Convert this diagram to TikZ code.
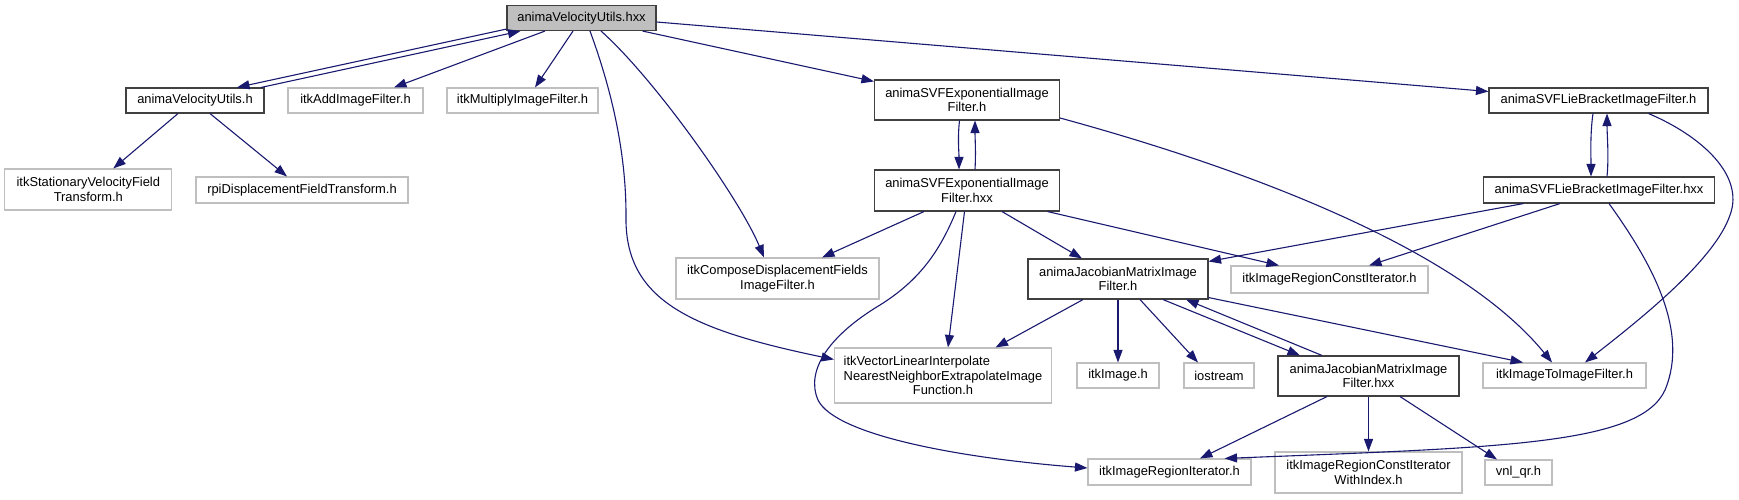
\documentclass[tikz,border=0pt]{standalone}
\usepackage{fontspec}
\setmainfont{Liberation Sans}
\usetikzlibrary{arrows.meta,calc}
\definecolor{edgeblue}{HTML}{191970}
\definecolor{extgray}{HTML}{BFBFBF}
\definecolor{projgray}{HTML}{404040}
\definecolor{rootfill}{HTML}{BFBFBF}
\begin{document}
\begin{tikzpicture}[x=1pt,y=-1pt,
  box/.style={rectangle, inner sep=0pt, align=center, font=\fontsize{12.9}{14.5}\selectfont, line width=1.1pt},
  ext/.style={box, draw=extgray},
  proj/.style={box, draw=projgray, fill=white},
  rootbox/.style={box, draw=projgray, fill=rootfill},
  dep/.style={draw=edgeblue, line width=1.1pt, -{Triangle[length=12.5pt,width=9pt]}}]
\useasboundingbox (0,0) rectangle (1739,499);

% nodes
\node[rootbox, minimum width=149pt, minimum height=25pt] (root) at (581.5,18) {animaVelocityUtils.hxx};
\node[proj, minimum width=138pt, minimum height=25pt] (vuh) at (195,100.5) {animaVelocityUtils.h};
\node[ext, minimum width=135pt, minimum height=25pt] (add) at (355.5,100.5) {itkAddImageFilter.h};
\node[ext, minimum width=151pt, minimum height=25pt] (mult) at (522.5,100.5) {itkMultiplyImageFilter.h};
\node[ext, minimum width=167pt, minimum height=41pt] (stat) at (88.3,189.5) {itkStationaryVelocityField\\Transform.h};
\node[ext, minimum width=212pt, minimum height=26pt] (rpi) at (302,190) {rpiDisplacementFieldTransform.h};
\node[proj, minimum width=185pt, minimum height=40pt] (sexph) at (967,100) {animaSVFExponentialImage\\Filter.h};
\node[proj, minimum width=185pt, minimum height=41pt] (sexphxx) at (967,190.5) {animaSVFExponentialImage\\Filter.hxx};
\node[proj, minimum width=219pt, minimum height=25pt] (slieh) at (1598.5,100.5) {animaSVFLieBracketImageFilter.h};
\node[proj, minimum width=231pt, minimum height=26pt] (sliehxx) at (1599,190) {animaSVFLieBracketImageFilter.hxx};
\node[ext, minimum width=203pt, minimum height=41pt] (compose) at (777.5,278.5) {itkComposeDisplacementFields\\ImageFilter.h};
\node[proj, minimum width=180pt, minimum height=40pt] (jach) at (1118,279) {animaJacobianMatrixImage\\Filter.h};
\node[ext, minimum width=197pt, minimum height=27pt] (ircit) at (1329.5,279.5) {itkImageRegionConstIterator.h};
\node[ext, minimum width=217pt, minimum height=55pt] (vecl) at (943,375.5) {\makebox[0pt][l]{itkVectorLinearInterpolate}\phantom{NearestNeighborExtrapolateImage}\\NearestNeighborExtrapolateImage\\Function.h};
\node[ext, minimum width=82pt, minimum height=25pt] (itkimage) at (1118,375.5) {itkImage.h};
\node[ext, minimum width=70pt, minimum height=25pt] (iostream) at (1219,375.5) {iostream};
\node[proj, minimum width=181pt, minimum height=40pt] (jachxx) at (1368.5,376) {animaJacobianMatrixImage\\Filter.hxx};
\node[ext, minimum width=163pt, minimum height=25pt] (itoi) at (1564.5,375.5) {itkImageToImageFilter.h};
\node[ext, minimum width=163pt, minimum height=26pt] (irit) at (1169.5,472) {itkImageRegionIterator.h};
\node[ext, minimum width=187pt, minimum height=41pt] (ircitwi) at (1368.5,472.5) {itkImageRegionConstIterator\\WithIndex.h};
\node[ext, minimum width=67pt, minimum height=25pt] (vnl) at (1518.5,472.5) {vnl\_qr.h};

% edges
\draw[dep] ($(root.south west)+(0,-2)$) -- ($(vuh.north)+(42,0)$);
\draw[dep] ($(vuh.north)+(66,0)$) -- ($(root.south west)+(14,0)$);
\draw[dep] ($(root.south)+(-36.5,0)$) -- ($(add.north)+(38.5,0)$);
\draw[dep] ($(root.south)+(-8.5,0)$) -- ($(mult.north)+(12.5,0)$);
\draw[dep] ($(root.south)+(19.5,0)$) .. controls +(54,48) and +(-24,-58) .. ($(compose.north)+(-13.5,0)$);
\draw[dep] ($(root.south)+(8.5,0)$) .. controls +(25,68) and +(0,-55) .. (626,215) .. controls +(-2,85) and +(-144.5,-30) .. ($(vecl.north west)+(0,12)$);
\draw[dep] ($(root.south east)+(-14,0)$) -- ($(sexph.north west)+(0,2)$);
\draw[dep] ($(root.east)+(0,4)$) -- ($(slieh.west)+(0,-9)$);
\draw[dep] ($(vuh.south)+(-17,0)$) -- ($(stat.north)+(25,0)$);
\draw[dep] ($(vuh.south)+(15,0)$) -- ($(rpi.north)+(-15,0)$);

\draw[dep] ($(sexph.south)+(-7.5,0)$) .. controls +(-2,18) and +(0,-18) .. ($(sexphxx.north)+(-8,0)$);
\draw[dep] ($(sexphxx.north)+(8,0)$) .. controls +(1,-18) and +(0,18) .. ($(sexph.south)+(8,0)$);
\draw[dep] ($(sexph.east)+(0,18)$) .. controls +(190.5,52) and +(-92,-113) .. ($(itoi.north)+(-12.5,0)$);
\draw[dep] ($(sexphxx.south)+(-43,0)$) -- ($(compose.north)+(44.5,0)$);
\draw[dep] ($(sexphxx.south)+(-2.5,0)$) -- ($(vecl.north)+(5,0)$);
\draw[dep] ($(sexphxx.south)+(-11,0)$) .. controls +(-16,39) and +(40,-25) .. (880,305) .. controls +(-50,30) and +(-13,-30) .. (818,400) .. controls +(17,35) and +(-128,-10) .. ($(irit.west)+(0,-4)$);
\draw[dep] ($(sexphxx.south)+(35,0)$) -- ($(jach.north)+(-36,0)$);
\draw[dep] ($(sexphxx.south east)+(-12.5,0)$) -- ($(ircit.north)+(-50.5,0)$);

\draw[dep] ($(slieh.south)+(-5.5,0)$) .. controls +(-3,20) and +(0,-20) .. ($(sliehxx.north)+(-8,0)$);
\draw[dep] ($(sliehxx.north)+(8,0)$) .. controls +(2,-20) and +(0,20) .. ($(slieh.south)+(8.5,0)$);
\draw[dep] ($(slieh.south east)+(-60,0)$) .. controls +(52,22) and +(15,-40) .. (1730,215) .. controls +(-15,45) and +(55,-43) .. ($(itoi.north)+(20.5,0)$);
\draw[dep] ($(sliehxx.south west)+(40.5,0)$) -- ($(jach.north east)+(0,3)$);
\draw[dep] ($(sliehxx.south)+(-39,0)$) -- ($(ircit.north)+(39.5,0)$);
\draw[dep] ($(sliehxx.south)+(10,0)$) .. controls +(41,57) and +(25,-60) .. (1665,390) .. controls +(-25,55) and +(276,-11) .. ($(irit.north east)+(-27,0)$);

\draw[dep] ($(jach.south)+(-35,0)$) -- ($(vecl.north east)+(-56.5,0)$);
\draw[dep] (jach.south) -- (itkimage.north);
\draw[dep] ($(jach.south)+(22,0)$) -- ($(iostream.north)+(-21,0)$);
\draw[dep] ($(jach.south)+(45,0)$) -- ($(jachxx.north)+(-68.5,0)$);
\draw[dep] ($(jachxx.north)+(-46.5,0)$) -- ($(jach.south)+(68,0)$);
\draw[dep] ($(jach.south east)+(0,-2)$) -- ($(itoi.north)+(-41.5,0)$);
\draw[dep] ($(jachxx.south)+(-41.5,0)$) -- ($(irit.north)+(30.5,0)$);
\draw[dep] (jachxx.south) -- (ircitwi.north);
\draw[dep] ($(jachxx.south)+(31.5,0)$) -- ($(vnl.north)+(-21.5,0)$);
\end{tikzpicture}
\end{document}
